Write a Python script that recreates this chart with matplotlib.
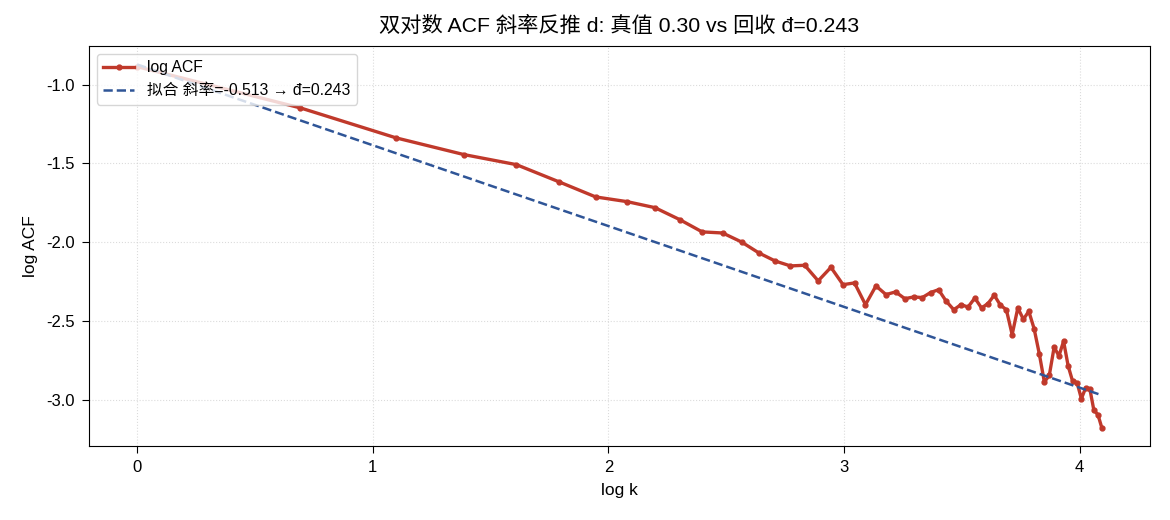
import numpy as np
from matplotlib import pyplot as plt

plt.rcParams['font.family'] = ['Liberation Sans', 'Noto Sans CJK SC', 'DejaVu Sans']
plt.rcParams['axes.unicode_minus'] = False

# lags k = 1..60 and log ACF
lags = np.arange(1, 61)
log_acf = [
    -0.886, -1.148, -1.338, -1.444, -1.508, -1.618, -1.713, -1.743, -1.781, -1.857,
    -1.935, -1.942, -1.999, -2.069, -2.120, -2.151, -2.147, -2.246, -2.160, -2.270,
    -2.259, -2.397, -2.278, -2.333, -2.316, -2.359, -2.348, -2.352, -2.320, -2.302,
    -2.376, -2.429, -2.397, -2.412, -2.355, -2.418, -2.390, -2.337, -2.400, -2.429,
    -2.587, -2.418, -2.490, -2.439, -2.549, -2.708, -2.888, -2.846, -2.666, -2.723,
    -2.629, -2.786, -2.884, -2.892, -2.994, -2.926, -2.930, -3.068, -3.095, -3.180,
]

# fitted line
slope = -0.513
intercept = -0.872
d_hat = 0.243
d_true = 0.30

log_k = np.log(lags)
fit = intercept + slope * log_k

fig = plt.figure(figsize=(11.7, 5.2), dpi=100)
ax = fig.add_axes([0.076, 0.142, 0.907, 0.769])

ax.plot(log_k, log_acf, color='#c0392b', lw=2.4, marker='o', ms=3.5, label='log ACF')
ax.plot(log_k, fit, color='#2f5597', lw=1.8, ls='--',
        label=f'拟合 斜率={slope:.3f} → đ={d_hat:.3f}')

ax.set_title(f'双对数 ACF 斜率反推 d: 真值 {d_true:.2f} vs 回收 đ={d_hat:.3f}', fontsize=15.3, pad=10)
ax.set_xlabel('log k', fontsize=12.5, labelpad=6)
ax.set_ylabel('log ACF', fontsize=12.5, labelpad=6)
ax.tick_params(labelsize=12, length=5, pad=5)
ax.grid(True, ls=':', color='#cccccc', alpha=0.7)
ax.legend(loc='upper left', fontsize=11.3, framealpha=0.8, borderaxespad=0.5)

plt.savefig('out.png', dpi=100)
